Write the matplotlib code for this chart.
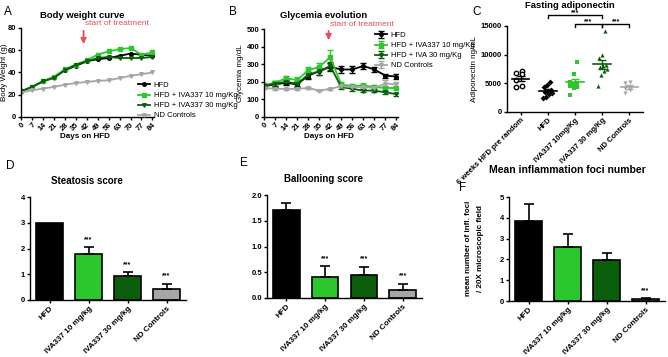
import numpy as np
import matplotlib.pyplot as plt

plt.rcParams['font.family'] = 'Liberation Sans'

W, H = 668, 357

# --- A / B : time courses ---
days = [0, 7, 14, 21, 28, 35, 42, 49, 56, 63, 70, 77, 84]

bw_hfd = [23, 27, 32, 36, 42, 46, 50, 52, 53, 55, 57, 56, 55]
bw_iva10 = [23, 27, 32, 36, 43, 47, 51, 56, 59, 61, 62, 56, 58]
bw_iva30 = [23, 27, 32, 35, 42, 47, 50, 53, 54, 53, 53, 53, 54]
bw_nd = [22, 24, 25.5, 27, 29, 30.5, 31.5, 32.5, 33, 35, 37, 38.5, 40]

gly_hfd = [175, 185, 195, 185, 235, 260, 285, 270, 270, 290, 270, 235, 230]
gly_hfd_err = [12, 12, 15, 15, 18, 20, 22, 18, 18, 18, 15, 12, 15]
gly_iva10 = [180, 195, 220, 210, 265, 285, 340, 185, 175, 180, 170, 165, 165]
gly_iva10_err = [12, 12, 15, 18, 20, 22, 38, 12, 10, 10, 10, 10, 10]
gly_iva30 = [175, 190, 200, 190, 240, 260, 290, 170, 160, 150, 150, 140, 130]
gly_iva30_err = [10, 12, 15, 15, 18, 20, 22, 10, 10, 8, 8, 8, 8]
gly_nd = [165, 160, 160, 160, 165, 150, 160, 175, 170, 170, 165, 190, 185]
gly_nd_err = [8, 6, 6, 6, 6, 5, 6, 6, 6, 6, 6, 22, 12]

series_labels_a = ['HFD', 'HFD + IVA337 10 mg/Kg', 'HFD + IVA337 30 mg/Kg', 'ND Controls']
series_labels_b = ['HFD', 'HFD + IVA337 10 mg/Kg', 'HFD + IVA 30 mg/Kg', 'ND Controls']

# --- C : adiponectin scatter ---
adipo_groups = ['6 weeks HFD pre random', 'HFD', 'IVA337 10mg/Kg', 'IVA337 30 mg/Kg', 'ND Controls']
adipo_pre = [7100, 6800, 6600, 5600, 4300, 4500]
adipo_hfd = [5300, 4700, 4300, 3900, 3700, 3500, 3350, 3100, 2650, 2400]
adipo_iva10 = [8800, 6700, 5250, 5000, 4800, 4500, 4300, 4100, 2950]
adipo_iva30 = [14200, 10000, 9500, 8200, 8000, 7800, 7500, 7200, 6500, 4600]
adipo_nd = [5250, 5100, 4400, 4200, 3800, 3250]

# --- D / E / F : histology scores ---
bar_groups = ['HFD', 'IVA337 10 mg/kg', 'IVA337 30 mg/kg', 'ND Controls']
steatosis = [3.0, 1.8, 0.92, 0.43]
steatosis_err = [0.0, 0.25, 0.15, 0.2]
ballooning = [1.7, 0.4, 0.45, 0.15]
ballooning_err = [0.15, 0.22, 0.16, 0.13]
inflam = [3.85, 2.62, 1.95, 0.08]
inflam_err = [0.8, 0.6, 0.38, 0.05]

BLACK = 'black'
LGREEN = '#2cc72c'
DGREEN = '#0b5e0b'
GREY = '#a6a6a6'
RED = '#e5505a'
colors = [BLACK, LGREEN, DGREEN, GREY]

fig = plt.figure(figsize=(W / 100, H / 100), dpi=100)


def add_ax(x0, y0, x1, y1):
    return fig.add_axes([x0 / W, 1 - y1 / H, (x1 - x0) / W, (y1 - y0) / H])


def ftext(x, y, s, **kw):
    fig.text(x / W, 1 - y / H, s, **kw)


def style(ax):
    for s in ['top', 'right']:
        ax.spines[s].set_visible(False)
    for s in ['left', 'bottom']:
        ax.spines[s].set_linewidth(1.0)
    ax.tick_params(length=2.5, width=1.0, labelsize=5.5, pad=1)


def bold_ticks(ax):
    for lbl in ax.get_xticklabels() + ax.get_yticklabels():
        lbl.set_fontweight('bold')


# ---------------- Panel A ----------------
axA = add_ax(21, 28, 154, 117)
markers = ['o', 's', 'v', 'v']
for vals, c, m, lab in zip([bw_hfd, bw_iva10, bw_iva30, bw_nd], colors, markers, series_labels_a):
    axA.plot(days, vals, color=c, marker=m, ms=2.6, lw=1.3, label=lab)
axA.set_xlim(0, 85)
axA.set_ylim(0, 80)
axA.set_yticks([0, 20, 40, 60, 80])
axA.set_xticks(days)
axA.set_xticklabels([str(d) for d in days], rotation=45, ha='right', rotation_mode='anchor')
style(axA)
bold_ticks(axA)
axA.annotate('', xy=(40, 63), xytext=(40, 80), xycoords='data',
             arrowprops=dict(arrowstyle='-|>', color=RED, lw=1.3, mutation_scale=8), annotation_clip=False)
axA.text(41, 81, 'start of treatment', color=RED, fontsize=6, ha='left', va='bottom', clip_on=False)
axA.legend(loc='upper left', bbox_to_anchor=(134 / W, 1 - 78 / H), bbox_transform=fig.transFigure,
           frameon=False, fontsize=5.5, handlelength=1.6, labelspacing=0.35, borderpad=0,
           handletextpad=0.5)
ftext(82, 15, 'Body weight curve', fontsize=6.8, fontweight='bold', ha='center', va='center')
ftext(85, 137, 'Days on HFD', fontsize=5.8, fontweight='bold', ha='center', va='center')
ftext(5, 72, 'Body Weight (g)', fontsize=5.8, rotation=90, ha='center', va='center')
ftext(8, 12, 'A', fontsize=8.5, ha='center', va='center')

# ---------------- Panel B ----------------
axB = add_ax(264, 29, 398, 117)
for vals, err, c, m, lab in zip([gly_hfd, gly_iva10, gly_iva30, gly_nd],
                                [gly_hfd_err, gly_iva10_err, gly_iva30_err, gly_nd_err],
                                colors, markers, series_labels_b):
    axB.errorbar(days, vals, yerr=err, color=c, marker=m, ms=2.6, lw=1.3, capsize=2.2,
                 elinewidth=1.0, capthick=1.0, label=lab)
axB.set_xlim(0, 85)
axB.set_ylim(0, 500)
axB.set_yticks([0, 100, 200, 300, 400, 500])
axB.set_xticks(days)
axB.set_xticklabels([str(d) for d in days], rotation=45, ha='right', rotation_mode='anchor')
style(axB)
bold_ticks(axB)
axB.annotate('', xy=(41, 420), xytext=(41, 505), xycoords='data',
             arrowprops=dict(arrowstyle='-|>', color=RED, lw=1.3, mutation_scale=8), annotation_clip=False)
axB.text(42, 508, 'start of treatment', color=RED, fontsize=6, ha='left', va='bottom', clip_on=False)
axB.legend(loc='upper left', bbox_to_anchor=(371 / W, 1 - 28 / H), bbox_transform=fig.transFigure,
           frameon=False, fontsize=5.5, handlelength=1.6, labelspacing=0.35, borderpad=0,
           handletextpad=0.5)
ftext(324, 15, 'Glycemia evolution', fontsize=6.8, fontweight='bold', ha='center', va='center')
ftext(329, 136, 'Days on HFD', fontsize=5.8, fontweight='bold', ha='center', va='center')
ftext(240, 73, 'Glycemia mg/dL', fontsize=5.8, rotation=90, ha='center', va='center')
ftext(233, 12, 'B', fontsize=8.5, ha='center', va='center')

# ---------------- Panel C ----------------
axC = add_ax(507, 26, 643, 112)
c_colors = [BLACK, BLACK, LGREEN, DGREEN, GREY]
c_markers = ['o', 'D', 's', '^', 'v']
for i, (vals, c, m) in enumerate(zip([adipo_pre, adipo_hfd, adipo_iva10, adipo_iva30, adipo_nd],
                                     c_colors, c_markers)):
    xpos = i + 1
    n = len(vals)
    offs = np.linspace(-0.17, 0.17, n)
    order = np.argsort(np.argsort(vals))
    jitter = offs[(order * 3) % n] if n > 1 else offs
    if i == 0:
        axC.scatter(xpos + jitter, vals, s=10, facecolors='white', edgecolors=c, linewidths=1.0, zorder=3)
    else:
        axC.scatter(xpos + jitter, vals, s=9, color=c, marker=m, linewidths=0, zorder=3)
    mean = np.mean(vals)
    sem = np.std(vals, ddof=1) / np.sqrt(n)
    axC.plot([xpos - 0.32, xpos + 0.32], [mean, mean], color=c, lw=1.2, zorder=4)
    axC.errorbar([xpos], [mean], yerr=[sem], fmt='none', ecolor=c, capsize=3, elinewidth=1.0,
                 capthick=1.0, zorder=4)
axC.set_xlim(0.5, 5.5)
axC.set_ylim(0, 15000)
axC.set_yticks([0, 5000, 10000, 15000])
axC.set_xticks(range(1, 6))
axC.set_xticklabels(adipo_groups, rotation=45, ha='right', rotation_mode='anchor')
style(axC)
bold_ticks(axC)
for (a, b, y) in [(2, 4, 16900), (3, 4, 15300), (4, 5, 15300)]:
    axC.plot([a, a, b, b], [y - 500, y, y, y - 500], color='black', lw=1.0, clip_on=False)
    axC.text((a + b) / 2, y - 200, '***', ha='center', va='bottom', fontsize=5, fontweight='bold')
ftext(570, 5, 'Fasting adiponectin', fontsize=6.8, fontweight='bold', ha='center', va='center')
ftext(474, 69, 'Adiponectin ng/mL', fontsize=5.8, rotation=90, ha='center', va='center')
ftext(477, 12, 'C', fontsize=8.5, ha='center', va='center')


# ---------------- Bar panels ----------------
def bar_panel(ax, vals, errs, ylim, yticks, fmt, stars):
    x = np.arange(1, len(vals) + 1)
    ax.bar(x, vals, width=0.68, color=colors, edgecolor='black', linewidth=1.2, zorder=2)
    for xi, v, e in zip(x, vals, errs):
        if e > 0:
            ax.errorbar([xi], [v], yerr=[[0], [e]], fmt='none', ecolor='black', capsize=3.5,
                        elinewidth=1.2, capthick=1.2, zorder=3)
    for xi, v, e, s in zip(x, vals, errs, stars):
        if s:
            ax.text(xi, v + e + ylim[1] * 0.04, s, ha='center', va='bottom', fontsize=5, fontweight='bold')
    ax.set_xlim(0.5, len(vals) + 0.5)
    ax.set_ylim(*ylim)
    ax.set_yticks(yticks)
    ax.set_yticklabels([fmt.format(t) for t in yticks])
    ax.set_xticks(x)
    ax.set_xticklabels(bar_groups, rotation=45, ha='right', rotation_mode='anchor')
    style(ax)
    ax.tick_params(axis='x', labelsize=5.8)
    bold_ticks(ax)


axD = add_ax(30, 197, 186, 300)
bar_panel(axD, steatosis, steatosis_err, (0, 4), [0, 1, 2, 3, 4], '{:.0f}', ['', '***', '***', '***'])
ftext(87, 181, 'Steatosis score', fontsize=7, fontweight='bold', ha='center', va='center')
ftext(10, 166, 'D', fontsize=8.5, ha='center', va='center')

axE = add_ax(267, 195, 422, 298)
bar_panel(axE, ballooning, ballooning_err, (0, 2), [0, 0.5, 1.0, 1.5, 2.0], '{:.1f}', ['', '***', '***', '***'])
ftext(323, 179, 'Ballooning score', fontsize=7, fontweight='bold', ha='center', va='center')
ftext(244, 163, 'E', fontsize=8.5, ha='center', va='center')

axF = add_ax(509, 197, 665, 301)
bar_panel(axF, inflam, inflam_err, (0, 5), [0, 1, 2, 3, 4, 5], '{:.0f}', ['', '', '', '***'])
ftext(567, 170, 'Mean inflammation foci number', fontsize=7.5, fontweight='bold', ha='center', va='center')
ftext(468, 248, 'mean number of infl. foci', fontsize=5.8, fontweight='bold', rotation=90, ha='center', va='center')
ftext(480, 248, '/ 20X microscopic field', fontsize=5.8, fontweight='bold', rotation=90, ha='center', va='center')
ftext(463, 188, 'F', fontsize=8.5, ha='center', va='center')

fig.savefig('out.png', dpi=100)
